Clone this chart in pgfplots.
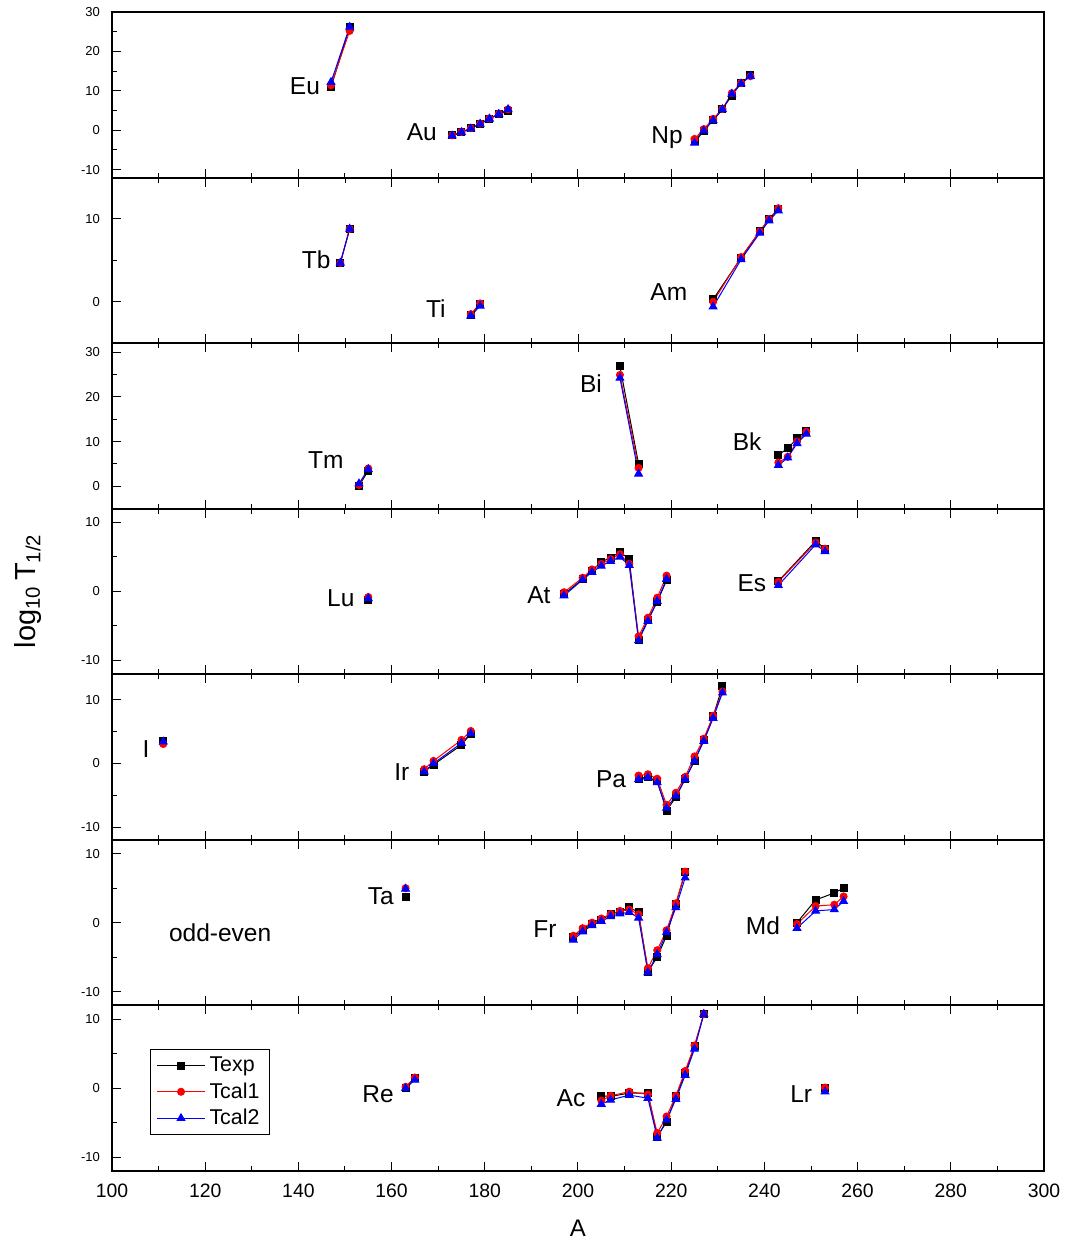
\documentclass[border=0pt]{standalone}
\usepackage{fontspec}
\setmainfont{Liberation Sans}
\usepackage{pgfplots}
\usepackage{pgfplotstable}
\pgfplotsset{compat=1.18}

% columns: A, Texp, Tcal1, Tcal2  (log10 T1/2)
\pgfplotstableread{
A exp c1 c2
147 10.9 11.4 12.2
151 26.2 25.2 26.2
}\Eu
\pgfplotstableread{
A exp c1 c2
173 -1.3 -1.3 -1.4
175 -0.5 -0.4 -0.5
177 0.5 0.5 0.4
179 1.6 1.7 1.6
181 2.9 3.0 2.9
183 4.1 4.2 4.1
185 4.8 5.3 5.3
}\Au
\pgfplotstableread{
A exp c1 c2
225 -2.6 -2.2 -3.2
227 -0.1 0.3 -0.1
229 2.6 2.9 2.5
231 5.4 5.4 5.3
233 8.8 9.4 9.2
235 12.0 12.0 11.8
237 13.9 13.7 13.7
}\Np
\pgfplotstableread{
A exp c1 c2
149 4.7 4.7 4.7
151 8.8 8.8 8.8
}\Tb
\pgfplotstableread{
A exp c1 c2
177 -1.6 -1.5 -1.7
179 -0.3 -0.2 -0.5
}\Ti
\pgfplotstableread{
A exp c1 c2
229 0.3 0.0 -0.6
235 5.3 5.4 5.1
239 8.5 8.5 8.3
241 10.0 10.0 9.8
243 11.2 11.3 11.0
}\Am
\pgfplotstableread{
A exp c1 c2
153 0.1 0.3 0.6
155 3.5 4.0 3.8
}\Tm
\pgfplotstableread{
A exp c1 c2
209 26.8 24.9 24.2
213 5.0 4.1 2.8
}\Bi
\pgfplotstableread{
A exp c1 c2
243 7.0 5.3 4.7
245 8.5 6.6 6.4
247 10.7 10.0 9.6
249 12.4 12.2 11.7
}\Bk
\pgfplotstableread{
A exp c1 c2
155 -1.2 -0.8 -1.0
}\Lu
\pgfplotstableread{
A exp c1 c2
197 -0.4 -0.1 -0.6
201 1.8 2.0 1.7
203 3.0 3.2 2.8
205 4.3 4.0 3.7
207 4.9 4.7 4.4
209 5.7 5.4 5.0
211 4.7 4.0 3.8
213 -7.0 -6.5 -7.1
215 -4.1 -3.8 -4.3
217 -1.5 -0.9 -1.4
219 1.6 2.3 1.8
}\At
\pgfplotstableread{
A exp c1 c2
243 1.5 1.4 0.9
251 7.3 7.1 6.8
253 6.2 6.2 5.8
}\Es
\pgfplotstableread{
A exp c1 c2
111 3.6 3.05 3.4
}\I
\pgfplotstableread{
A exp c1 c2
167 -1.3 -0.9 -1.3
169 -0.2 0.4 0.0
175 2.9 3.7 3.2
177 4.7 5.1 4.7
}\Ir
\pgfplotstableread{
A exp c1 c2
213 -2.4 -1.9 -2.5
215 -2.1 -1.7 -2.2
217 -2.8 -2.4 -3.0
219 -7.4 -6.5 -7.0
221 -5.3 -4.6 -5.1
223 -2.4 -2.1 -2.5
225 0.4 1.1 0.4
227 3.7 3.9 3.5
229 7.4 7.5 7.1
231 12.1 11.3 11.1
}\Pa
\pgfplotstableread{
A exp c1 c2
163 3.7 5.0 4.9
}\Ta
\pgfplotstableread{
A exp c1 c2
199 -2.1 -1.9 -2.5
201 -1.1 -0.8 -1.3
203 -0.2 0.0 -0.4
205 0.4 0.6 0.2
207 1.2 1.25 0.9
209 1.6 1.7 1.3
211 2.2 1.9 1.5
213 1.5 1.2 0.7
215 -7.1 -6.6 -7.2
217 -5.0 -4.0 -4.6
219 -1.9 -1.1 -1.4
221 2.7 2.8 2.2
223 7.3 7.4 6.5
}\Fr
\pgfplotstableread{
A exp c1 c2
247 0.0 -0.2 -0.8
251 3.3 2.4 1.7
255 4.3 2.6 1.9
257 5.0 3.8 3.1
}\Md
\pgfplotstableread{
A exp c1 c2
163 0.1 0.2 0.0
165 1.45 1.55 1.2
}\Re
\pgfplotstableread{
A exp c1 c2
205 -1.1 -1.8 -2.3
207 -1.2 -1.1 -1.7
211 -0.7 -0.5 -1.0
215 -0.7 -0.9 -1.45
217 -7.0 -6.5 -7.2
219 -4.9 -4.1 -4.6
221 -1.2 -1.1 -1.6
223 2.2 2.5 1.9
225 6.05 6.2 5.7
227 10.75 10.75 10.75
}\Ac
\pgfplotstableread{
A exp c1 c2
253 0.0 0.1 -0.5
}\Lr

\newcommand{\trio}[1]{%
  \addplot[texp] table[x=A,y=exp]{#1};
  \addplot[tcone] table[x=A,y=c1]{#1};
  \addplot[tctwo] table[x=A,y=c2]{#1};
}
\newcommand{\elem}[3]{\node[font=\fontsize{12.25}{14}\selectfont] at (axis cs:#1,#2) {#3};}

\pgfplotsset{
  panel/.style={
    scale only axis, width=466pt, height=82.786pt,
    anchor=south west,
    xmin=100, xmax=300,
    xtick={100,120,...,300}, minor xtick={110,130,...,290},
    xticklabels={},
    tick align=inside, ytick pos=left, xtick pos=both,
    major tick length=4.5pt, minor tick length=2.5pt,
    every tick/.append style={black, line width=0.5pt},
    axis line style={line width=1pt},
    yticklabel style={font=\fontsize{6.5}{7}\selectfont, xshift=-2.5pt},
    xticklabel style={font=\fontsize{9.7}{11}\selectfont, yshift=-3pt},
    /pgf/number format/assume math mode=true,
    clip=false,
  },
  texp/.style={black, line width=0.5pt, mark=square*, mark size=1.75pt, mark options={solid}},
  tcone/.style={red, line width=0.5pt, mark=*, mark size=1.75pt, mark options={solid}},
  tctwo/.style={blue, line width=0.5pt, mark=triangle*, mark size=2.2pt, mark options={solid}},
}

\begin{document}
\begin{tikzpicture}
% panel 1
\begin{axis}[panel, at={(0,496.716pt)}, xtick pos=left,
  ymin=-12, ymax=30, ytick={-10,0,...,30}, minor ytick={-5,5,...,25}]
\trio{\Eu}\trio{\Au}\trio{\Np}
\elem{141.4}{11.2}{Eu}
\elem{166.5}{-0.5}{Au}
\elem{219.1}{-1.8}{Np}
\end{axis}
% panel 2
\begin{axis}[panel, at={(0,413.93pt)},
  ymin=-5, ymax=15, ytick={0,10}, minor ytick={-5,5,15}]
\trio{\Tb}\trio{\Ti}\trio{\Am}
\elem{143.8}{5.1}{Tb}
\elem{169.5}{-0.8}{Ti}
\elem{219.5}{1.2}{Am}
\end{axis}
% panel 3
\begin{axis}[panel, at={(0,331.144pt)},
  ymin=-5, ymax=32, ytick={0,10,20,30}, minor ytick={5,15,25}]
\trio{\Tm}\trio{\Bi}\trio{\Bk}
\elem{145.9}{5.8}{Tm}
\elem{202.8}{23}{Bi}
\elem{236.3}{10}{Bk}
\end{axis}
% panel 4
\begin{axis}[panel, at={(0,248.358pt)},
  ymin=-12, ymax=12, ytick={-10,0,10}, minor ytick={-5,5}]
\trio{\Lu}\trio{\At}\trio{\Es}
\elem{149.1}{-1.0}{Lu}
\elem{191.6}{-0.6}{At}
\elem{237.3}{1.2}{Es}
\end{axis}
% panel 5
\begin{axis}[panel, at={(0,165.572pt)},
  ymin=-12, ymax=14, ytick={-10,0,10}, minor ytick={-5,5}]
\trio{\I}\trio{\Ir}\trio{\Pa}
\elem{107.3}{2.2}{I}
\elem{162.2}{-1.4}{Ir}
\elem{207.1}{-2.5}{Pa}
\end{axis}
% panel 6
\begin{axis}[panel, at={(0,82.786pt)},
  ymin=-12, ymax=12, ytick={-10,0,10}, minor ytick={-5,5}]
\trio{\Ta}\trio{\Fr}\trio{\Md}
\elem{157.7}{3.8}{Ta}
\elem{192.9}{-1.0}{Fr}
\elem{239.7}{-0.4}{Md}
\elem{123.2}{-1.4}{odd-even}
\end{axis}
% panel 7
\begin{axis}[panel, at={(0,0)},
  ymin=-12, ymax=12, ytick={-10,0,10}, minor ytick={-5,5},
  xticklabels={100,120,140,160,180,200,220,240,260,280,300},
  xlabel={A},
  every axis x label/.style={at={(axis description cs:0.5,0)}, anchor=center, yshift=-28.5pt, font=\fontsize{12}{14}\selectfont},
  legend entries={Texp,Tcal1,Tcal2},
  legend style={at={(axis description cs:0.0408,0.735)}, anchor=north west, draw=black, line width=0.5pt,
    font=\fontsize{10.7}{12}\selectfont, inner xsep=3pt, inner ysep=1.5pt, row sep=0pt, cells={anchor=west}},
  legend image code/.code={\draw[mark repeat=2,mark phase=2,#1] plot coordinates {(0pt,0pt) (12pt,0pt) (24pt,0pt)};}]
\trio{\Re}\trio{\Ac}\trio{\Lr}
\elem{157.1}{-0.9}{Re}
\elem{198.5}{-1.4}{Ac}
\elem{247.9}{-0.9}{Lr}
\end{axis}
\node[rotate=90, font=\fontsize{14.5}{16}\selectfont] at (-42pt,290pt) {log\textsubscript{10}\,T\textsubscript{1/2}};
\pgfresetboundingbox
\path[use as bounding box] (-56pt,-36pt) rectangle (479pt,585.5pt);
\end{tikzpicture}
\end{document}
